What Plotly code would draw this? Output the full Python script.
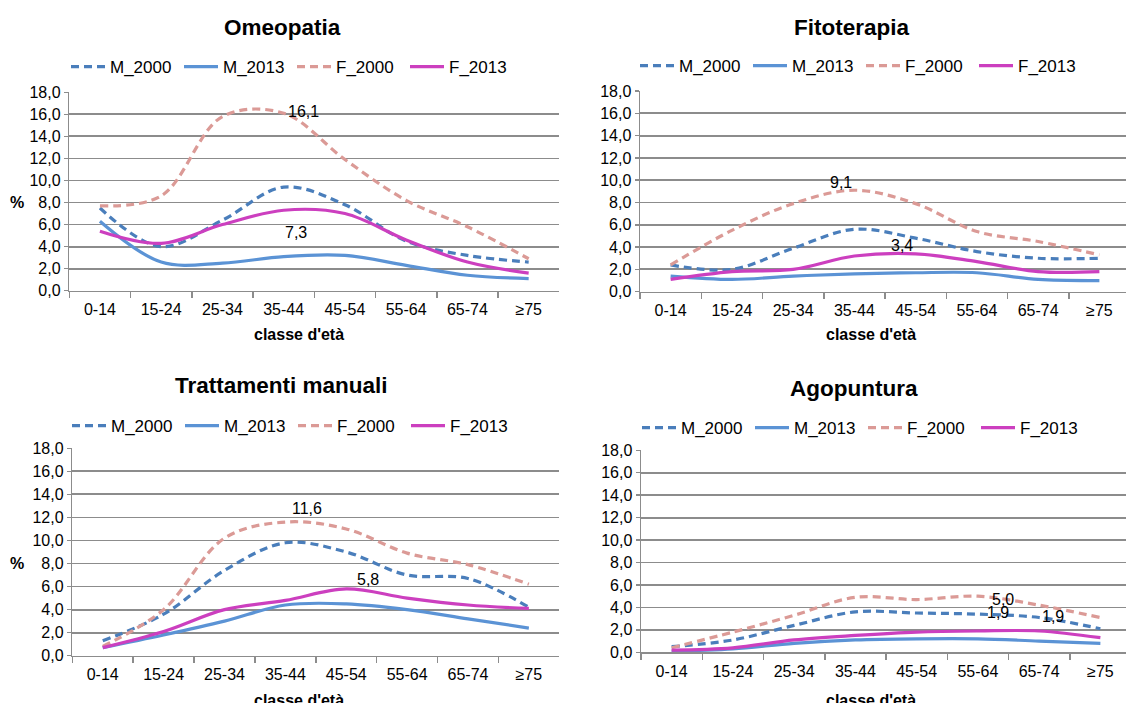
import plotly.graph_objects as go

W, H = 1126, 703

categories = ["0-14", "15-24", "25-34", "35-44", "45-54", "55-64", "65-74", "≥75"]
series_names = ["M_2000", "M_2013", "F_2000", "F_2013"]

# Omeopatia
om_M2000 = [7.5, 4.0, 6.4, 9.4, 7.8, 4.5, 3.2, 2.6]
om_M2013 = [6.3, 2.6, 2.5, 3.1, 3.2, 2.3, 1.4, 1.1]
om_F2000 = [7.7, 8.6, 15.8, 16.1, 11.9, 8.2, 5.8, 2.9]
om_F2013 = [5.4, 4.3, 6.0, 7.3, 7.0, 4.6, 2.6, 1.6]

# Fitoterapia
fi_M2000 = [2.4, 2.0, 3.9, 5.6, 4.8, 3.6, 3.0, 3.0]
fi_M2013 = [1.4, 1.1, 1.4, 1.6, 1.7, 1.7, 1.1, 1.0]
fi_F2000 = [2.4, 5.5, 7.9, 9.1, 7.9, 5.4, 4.5, 3.3]
fi_F2013 = [1.1, 1.8, 2.0, 3.2, 3.4, 2.7, 1.8, 1.8]

# Trattamenti manuali
tm_M2000 = [1.3, 3.6, 7.4, 9.8, 9.0, 7.0, 6.7, 4.2]
tm_M2013 = [0.7, 1.8, 3.0, 4.4, 4.5, 4.0, 3.2, 2.4]
tm_F2000 = [0.8, 4.0, 10.2, 11.6, 11.0, 8.9, 7.9, 6.2]
tm_F2013 = [0.7, 2.1, 4.0, 4.8, 5.8, 5.0, 4.4, 4.1]

# Agopuntura
ag_M2000 = [0.5, 1.1, 2.4, 3.6, 3.5, 3.4, 3.1, 2.1]
ag_M2013 = [0.1, 0.3, 0.8, 1.1, 1.2, 1.2, 1.0, 0.8]
ag_F2000 = [0.4, 1.8, 3.3, 4.9, 4.7, 5.0, 4.2, 3.1]
ag_F2013 = [0.2, 0.4, 1.1, 1.5, 1.8, 1.9, 1.9, 1.3]

titles = ["Omeopatia", "Fitoterapia", "Trattamenti manuali", "Agopuntura"]
panel_data = [
    [om_M2000, om_M2013, om_F2000, om_F2013],
    [fi_M2000, fi_M2013, fi_F2000, fi_F2013],
    [tm_M2000, tm_M2013, tm_F2000, tm_F2013],
    [ag_M2000, ag_M2013, ag_F2000, ag_F2013],
]
# value labels: (series index, category index, xshift, yshift)
value_labels = [
    [(2, 3, 20, 2), (3, 3, 12, -22)],
    [(2, 3, -13, 8), (3, 4, -14, 8)],
    [(2, 3, 22, 14), (3, 4, 22, 9)],
    [(2, 5, 25, -3), (3, 5, 20, 18), (3, 6, 14, 14)],
]

colors = ["#4A7EBB", "#5B93D5", "#DB9A96", "#CC3FBF"]
dashes = ["8px,5px", "solid", "8px,5px", "solid"]

# layout boxes in pixels: x0, x1, ytop, ybottom
boxes = [
    (69.3, 559.3, 92.3, 290.7),
    (640.0, 1130.0, 91.0, 291.7),
    (72.3, 559.3, 448.3, 655.7),
    (641.0, 1131.0, 450.3, 652.3),
]
title_pos = [(283, 28), (852, 28), (281, 385), (854, 388)]
legend_pos = [(72, 67), (641, 66), (73, 426), (643, 428)]
xtitle_pos = [(299, 334), (871, 334), (299, 700), (871, 700)]
show_pct = [True, False, True, False]

FONT = "Liberation Sans, Arial, sans-serif"
GRID = "#8C8C8C"

fig = go.Figure()
layout = dict(
    template="none",
    width=W, height=H,
    margin=dict(l=0, r=0, t=0, b=0, pad=0, autoexpand=False),
    paper_bgcolor="white", plot_bgcolor="white",
    separators=",.",
    font=dict(family=FONT, size=16, color="black"),
    showlegend=True,
    annotations=[],
)

leg_names = ["legend", "legend2", "legend3", "legend4"]

for p in range(4):
    sfx = "" if p == 0 else str(p + 1)
    x0, x1, yt, yb = boxes[p]
    catw = (x1 - x0) / 8.0
    x1c = min(x1, W)
    rmax = -0.5 + (x1c - x0) / catw
    for s in range(4):
        fig.add_trace(go.Scatter(
            x=categories, y=panel_data[p][s], name=series_names[s],
            mode="lines",
            line=dict(color=colors[s], width=3.2, dash=dashes[s], shape="spline", smoothing=1.0),
            xaxis="x" + sfx, yaxis="y" + sfx,
            legend=leg_names[p], hoverinfo="skip",
        ))
    layout["xaxis" + sfx] = dict(
        domain=[x0 / W, x1c / W], anchor="y" + sfx, automargin=False,
        type="category", categoryorder="array", categoryarray=categories,
        range=[-0.5, rmax], tickson="boundaries", ticks="outside", ticklen=6,
        tickcolor=GRID, tickwidth=1.5,
        showline=True, linecolor=GRID, linewidth=1.5, showgrid=False, zeroline=False,
        tickfont=dict(size=16, family=FONT, color="black"), ticklabelstandoff=4,
        fixedrange=True,
    )
    layout["yaxis" + sfx] = dict(
        domain=[1 - yb / H, 1 - yt / H], anchor="x" + sfx, automargin=False,
        range=[0, 18], dtick=2, tick0=0, tickformat=".1f",
        ticks="outside", ticklen=4, tickcolor=GRID, tickwidth=1.5,
        showline=True, linecolor=GRID, linewidth=1.5,
        showgrid=True, gridcolor=GRID, gridwidth=1.8, zeroline=False,
        tickfont=dict(size=16, family=FONT, color="black"),
        fixedrange=True,
    )
    lx, ly = legend_pos[p]
    layout[leg_names[p]] = dict(
        orientation="h", x=(lx - 6) / W, y=1 - ly / H, xanchor="left", yanchor="middle",
        font=dict(size=17, family=FONT, color="black"),
        bgcolor="rgba(0,0,0,0)", borderwidth=0, itemwidth=34,
        entrywidth=64, entrywidthmode="pixels", itemclick=False, itemdoubleclick=False,
    )
    tx, ty = title_pos[p]
    layout["annotations"].append(dict(
        text="<b>%s</b>" % titles[p], x=tx / W, y=1 - ty / H, xref="paper", yref="paper",
        xanchor="center", yanchor="middle", showarrow=False,
        font=dict(size=22.5, family=FONT, color="black"),
    ))
    ax, ay = xtitle_pos[p]
    layout["annotations"].append(dict(
        text="<b>classe d'età</b>", x=ax / W, y=1 - ay / H, xref="paper", yref="paper",
        xanchor="center", yanchor="middle", showarrow=False,
        font=dict(size=16, family=FONT, color="black"),
    ))
    if show_pct[p]:
        layout["annotations"].append(dict(
            text="<b>%</b>", x=17 / W, y=8, xref="paper", yref="y" + sfx,
            xanchor="center", yanchor="middle", showarrow=False,
            font=dict(size=16, family=FONT, color="black"),
        ))
    for (s, c, dx, dy) in value_labels[p]:
        v = panel_data[p][s][c]
        layout["annotations"].append(dict(
            text=("%.1f" % v).replace(".", ","), x=categories[c], y=v,
            xref="x" + sfx, yref="y" + sfx, xshift=dx, yshift=dy,
            xanchor="center", yanchor="middle", showarrow=False,
            font=dict(size=16, family=FONT, color="black"),
        ))

fig.update_layout(**layout)
fig.write_html("out.html", config={"displayModeBar": False, "staticPlot": True},
               post_script="document.body.style.margin='0px';")
